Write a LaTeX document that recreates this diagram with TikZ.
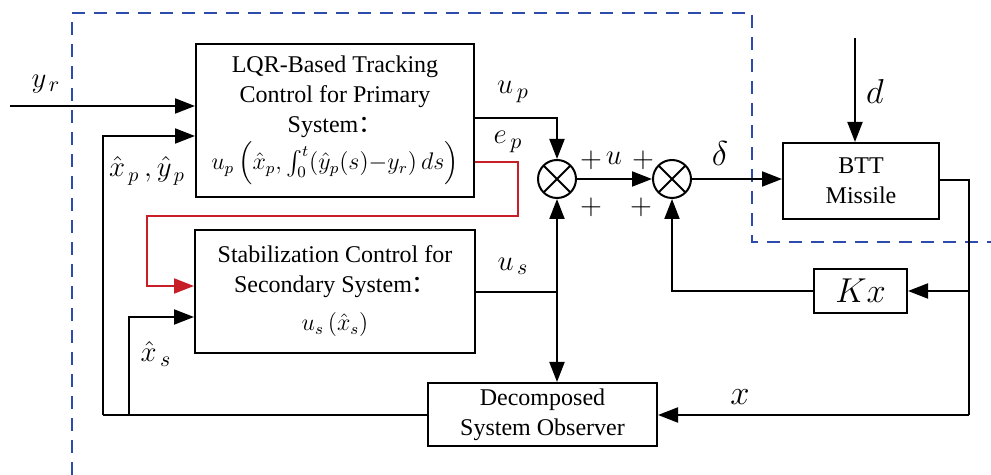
\documentclass[tikz,border=0pt]{standalone}
\usepackage{amsmath}
\usepackage{fontspec}
\setmainfont{Liberation Serif}
\newfontfamily\cjk{Noto Sans CJK SC}
\usetikzlibrary{arrows.meta,calc}
\definecolor{dashblue}{RGB}{45,75,170}
\definecolor{epred}{RGB}{200,30,40}
\tikzset{
  blk/.style={draw, line width=1pt, inner sep=0pt, align=center, font=\fontsize{12}{15}\selectfont},
  summer/.style={draw, circle, line width=1pt, minimum size=19pt, inner sep=0pt,
    path picture={\draw[line width=1pt] (path picture bounding box.north west) -- (path picture bounding box.south east)
      (path picture bounding box.north east) -- (path picture bounding box.south west);}},
  wire/.style={line width=1pt},
  arr/.style={line width=1pt, -{Triangle[length=10pt,width=7.5pt]}},
  lbl/.style={font=\fontsize{15}{17}\selectfont, inner sep=0pt},
  biglbl/.style={font=\fontsize{16}{18}\selectfont, inner sep=0pt},
  plus/.style={font=\fontsize{14}{16}\selectfont, inner sep=0pt},
}
\begin{document}
\begin{tikzpicture}[x=0.5pt,y=-0.5pt]
\useasboundingbox (0,0) rectangle (991,475);
% dashed region
\draw[dashblue, line width=1pt, dash pattern=on 6.5pt off 4.5pt] (72,475) -- (72,13) -- (752,13) -- (752,242) -- (991,242);
% blocks
\node[blk, minimum width=139pt, minimum height=76.5pt] (LQR) at (335,120.5)
  {LQR-Based Tracking\\Control for Primary\\System\smash{\cjk ：}\\[1pt]
   $u_p\left(\hat{x}_p,\int_0^t\!\left(\hat{y}_p(s){-}y_r\right)ds\right)$};
\node[blk, minimum width=140pt, minimum height=61.5pt] (Stab) at (335,291.5)
  {Stabilization Control for\\Secondary System\smash{\cjk ：}\\[4pt]$u_s\left(\hat{x}_s\right)$};
\node[blk, minimum width=114.5pt, minimum height=31.5pt] (Obs) at (542.5,414.5)
  {Decomposed\\System Observer};
\node[blk, minimum width=78pt, minimum height=38pt] (BTT) at (861,181) {BTT\\Missile};
\node[blk, minimum width=46.5pt, minimum height=22pt, font=\fontsize{17}{17}\selectfont] (Kx) at (860.5,291) {$Kx$};
\node[summer] (S1) at (557,179) {};
\node[summer] (S2) at (672,179) {};
% coordinates
\coordinate (yrin) at (10,106);
\coordinate (din) at (855,38);
\coordinate (xpb) at (103,415);
\coordinate (xsb) at (129,415);
\coordinate (usj) at (557,292);
\coordinate (outR) at (969,180);
\coordinate (kxj) at (969,291);
\coordinate (obsR) at (969,415);
\coordinate (epA) at (518,162);
\coordinate (epB) at (518,216);
\coordinate (epC) at (147,216);
% connectors
\draw[arr] (yrin) -- (yrin -| LQR.west);
\draw[arr] (xpb) |- (LQR.west |- 0,136);
\draw[arr] (xsb) |- (Stab.west |- 0,317);
\draw[wire] (xpb) -- (xpb -| Obs.west);
\draw[arr] (LQR.east |- 0,118) -| (S1.north);
\draw[arr, epred] (LQR.east |- epA) -- (epA) -- (epB) -- (epC) |- (Stab.west |- 0,286);
\draw[wire] (Stab.east |- usj) -- (usj);
\draw[arr] (usj) -- (S1.south);
\draw[arr] (usj) -- (usj |- Obs.north);
\draw[arr] (S1.east) -- (S2.west);
\draw[arr] (S2.east) -- (S2.east -| BTT.west);
\draw[arr] (din) -- (din |- BTT.north);
\draw[wire] (BTT.east |- outR) -- (outR) -- (obsR);
\draw[arr] (obsR) -- (obsR -| Obs.east);
\draw[arr] (kxj) -- (Kx.east |- kxj);
\draw[arr] (Kx.west) -| (S2.south);
% labels
\node[lbl] (lyr) at (46,84) {$y_{\,r}$};
\node[lbl] (lup) at (513,92) {$u_{\,p}$};
\node[lbl] (lep) at (508,142) {$e_{\,p}$};
\node[lbl, font=\fontsize{14}{16}\selectfont] (lxp) at (147,171) {$\hat{x}_{\,p}\,,\hat{y}_{\,p}$};
\node[lbl] (lxs) at (156,354) {$\hat{x}_{\,s}$};
\node[lbl] (lus) at (513,266) {$u_{\,s}$};
\node[lbl] (lu) at (614,158) {$u$};
\node[plus] (p1) at (591,160) {$+$};
\node[plus] (p2) at (643,160) {$+$};
\node[plus] (p3) at (591,207) {$+$};
\node[plus] (p4) at (641,207) {$+$};
\node[biglbl] (ld) at (720,154) {$\delta$};
\node[biglbl] (ldd) at (875,92) {$d$};
\node[biglbl] (lx) at (740,397) {$x$};
\end{tikzpicture}
\end{document}
